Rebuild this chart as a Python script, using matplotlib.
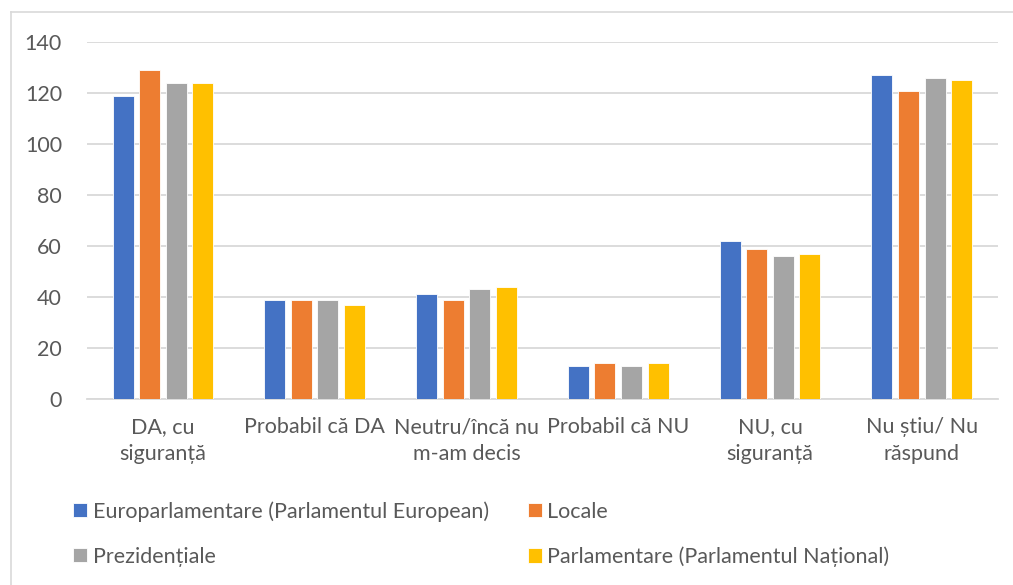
import matplotlib
matplotlib.use("Agg")
import matplotlib.pyplot as plt
import numpy as np
from matplotlib.lines import Line2D

categories = ["DA, cu\nsiguranță", "Probabil că DA", "Neutru/încă nu\nm-am decis",
              "Probabil că NU", "NU, cu\nsiguranță", "Nu știu/ Nu\nrăspund"]
series_names = ["Europarlamentare (Parlamentul European)", "Locale",
                "Prezidențiale", "Parlamentare (Parlamentul Național)"]
europarlamentare = [119, 39, 41, 13, 62, 127]
locale = [129, 39, 39, 14, 59, 121]
prezidentiale = [124, 39, 43, 13, 56, 126]
parlamentare = [124, 37, 44, 14, 57, 125]
yticks = [0, 20, 40, 60, 80, 100, 120, 140]

colors = ["#4472C4", "#ED7D31", "#A5A5A5", "#FFC000"]
series = [europarlamentare, locale, prezidentiale, parlamentare]

plt.rcParams['font.family'] = ['Lato', 'DejaVu Sans']
txt = "#595959"
fs = 15.5

fig = plt.figure(figsize=(10.13, 5.85), dpi=100)
ax = fig.add_axes([0.0859, 0.318, 0.899, 0.610])

x = np.arange(len(categories))
w = 0.138
stride = 0.175
handles = []
for i, (vals, c, name) in enumerate(zip(series, colors, series_names)):
    off = (i - 1.5) * stride
    b = ax.bar(x + off, vals, width=w, color=c, edgecolor="white", linewidth=0.6,
               label=name, zorder=3)
    handles.append(b)

ax.set_xlim(-0.5, len(categories) - 0.5)
ax.set_ylim(0, 140)
ax.set_yticks(yticks)
ax.yaxis.grid(True, color="#D9D9D9", linewidth=1.3, zorder=0)
ax.set_axisbelow(True)
for s in ["top", "right", "left"]:
    ax.spines[s].set_visible(False)
ax.spines["bottom"].set_color("#D9D9D9")
ax.spines["bottom"].set_linewidth(1.3)
ax.tick_params(axis="both", length=0, labelsize=fs, colors=txt)
ax.tick_params(axis="x", pad=13)
ax.tick_params(axis="y", pad=18)
ax.set_xticks(x)
ax.set_xticklabels(categories, linespacing=1.45)

order = [0, 2, 1, 3]
leg = fig.legend([handles[i] for i in order], [series_names[i] for i in order],
                 ncol=2, loc="upper left", bbox_to_anchor=(0.064, 0.158),
                 frameon=False, fontsize=fs, labelcolor=txt,
                 handlelength=0.65, handleheight=0.65, handletextpad=0.25,
                 columnspacing=1.8, labelspacing=1.15, borderaxespad=0)

# chart border (left and top visible)
fig.add_artist(Line2D([11/1013, 11/1013], [0, 1 - 12/585], color="#D9D9D9",
                      linewidth=1.2, transform=fig.transFigure))
fig.add_artist(Line2D([11/1013, 1], [1 - 12/585, 1 - 12/585], color="#D9D9D9",
                      linewidth=1.2, transform=fig.transFigure))

fig.savefig("out.png", dpi=100, facecolor="white")
